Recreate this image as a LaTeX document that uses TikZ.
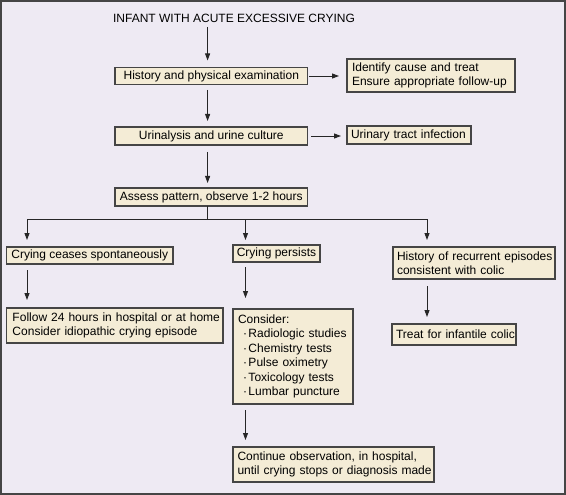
\documentclass[tikz,border=0pt]{standalone}
\usepackage{fontspec}
\setmainfont{Liberation Sans}
\usetikzlibrary{arrows.meta}
\definecolor{bg}{HTML}{EEEAF3}
\definecolor{boxfill}{HTML}{F4ECD6}
\definecolor{edge}{HTML}{454545}
\newcommand\bitem[1]{\hspace*{5pt}\mbox{\char"00B7\hspace{1.5pt}#1}}
\begin{document}
\begin{tikzpicture}[x=1pt,y=-1pt,
  txt/.style={font=\fontsize{12}{14.5}\selectfont, text=black},
  box/.style={txt, draw=edge, line width=1.2pt, fill=boxfill, inner sep=0pt, outer sep=0pt, align=center},
  lbox/.style={box, align=left, inner xsep=#1},
  lbox/.default=5pt,
  arr/.style={draw=black!85, line width=0.9pt, -{Triangle[length=7pt,width=5pt]}},
  ln/.style={draw=black!85, line width=0.9pt}
]
\fill[bg] (0,0) rectangle (566,495);
\useasboundingbox (0,0) rectangle (566,495);
\draw[edge, line width=1.6pt] (0.8,0.8) rectangle (565.2,494.2);

% coordinates for connector columns
\coordinate (ax) at (207.6,0);
\coordinate (br) at (207.6,219);
\coordinate (bl) at (27,219);
\coordinate (bm) at (245.5,219);
\coordinate (bR) at (427,219);

% nodes
\node[txt] (title) at (234,18) {INFANT WITH ACUTE EXCESSIVE CRYING};
\node[box, minimum width=192.6, minimum height=17] (hist) at (211.3,76) {History and physical examination};
\node[lbox=5pt, text width=158, minimum height=33] (id) at (431,75.5)
  {\mbox{Identify cause and treat}\\\mbox{Ensure appropriate follow-up}};
\node[box, minimum width=192.6, minimum height=18] (uri) at (211.3,136) {Urinalysis and urine culture};
\node[lbox=4pt, text width=116, minimum height=18] (uti) at (409,135) {\mbox{Urinary tract infection}};
\node[box, minimum width=192.6, minimum height=18] (ass) at (211.3,197) {Assess pattern, observe 1-2 hours};

\node[box, minimum width=166.5, minimum height=17] (c1) at (89.75,255.5) {Crying ceases spontaneously};
\node[box, minimum width=87, minimum height=17] (c2) at (276.5,253.5) {Crying persists};
\node[lbox=4pt, text width=154, minimum height=32] (c3) at (474,263)
  {\mbox{History of recurrent episodes}\\\mbox{consistent with colic}};

\node[lbox=6pt, text width=204.5, minimum height=35] (fol) at (114.75,325.5)
  {\mbox{Follow 24 hours in hospital or at home}\\\mbox{Consider idiopathic crying episode}};
\node[lbox=5pt, text width=110, minimum height=95] (con) at (293,356.5)
  {\mbox{Consider:}\\\bitem{Radiologic studies}\\\bitem{Chemistry tests}\\\bitem{Pulse oximetry}\\\bitem{Toxicology tests}\\\bitem{Lumbar puncture}};
\node[lbox=4pt, text width=116, minimum height=21] (trt) at (454,334.5) {\mbox{Treat for infantile colic}};
\node[lbox=4.5pt, text width=192, minimum height=35] (cont) at (333.5,464.5)
  {\mbox{Continue observation, in hospital,}\\\mbox{until crying stops or diagnosis made}};

% connectors
\draw[arr, shorten <=1pt, shorten >=7pt] (title.south -| ax) -- (hist.north -| ax);
\draw[arr, shorten <=5.5pt, shorten >=6pt] (hist.south -| ax) -- (uri.north -| ax);
\draw[arr, shorten <=7pt, shorten >=5pt] (uri.south -| ax) -- (ass.north -| ax);
\draw[arr, shorten <=1.5pt, shorten >=8pt] (hist.east) -- (id.west |- hist.east);
\draw[arr, shorten <=3.5pt, shorten >=6pt] (uri.east) -- (uti.west |- uri.east);

\draw[ln] (ass.south -| br) -- (br);
\draw[ln] (bl) -- (bR);
\draw[arr, shorten >=7pt] (bl) -- (bl |- c1.north);
\draw[arr, shorten >=5pt] (bm) -- (bm |- c2.north);
\draw[arr, shorten >=7pt] (bR) -- (bR |- c3.north);

\draw[arr, shorten <=6pt, shorten >=8pt] (c1.south -| bl) -- (fol.north -| bl);
\draw[arr, shorten <=5pt, shorten >=11pt] (c2.south -| bm) -- (con.north -| bm);
\draw[arr, shorten <=7pt, shorten >=7pt] (c3.south -| bR) -- (trt.north -| bR);
\draw[arr, shorten <=6pt, shorten >=7pt] (con.south -| bm) -- (cont.north -| bm);
\end{tikzpicture}
\end{document}
